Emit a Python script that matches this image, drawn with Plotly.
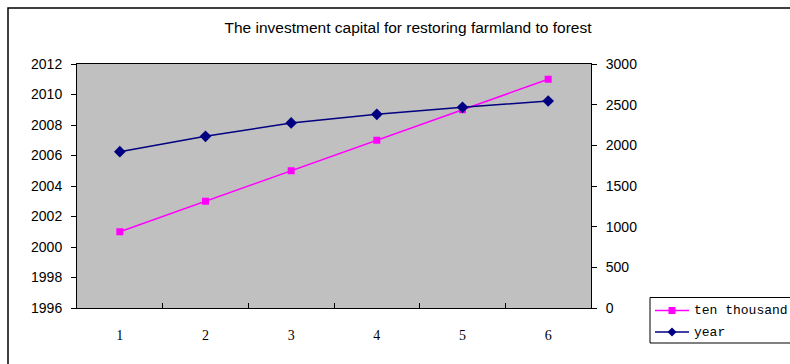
import plotly.graph_objects as go

categories = ["1", "2", "3", "4", "5", "6"]
ten_thousand = [2001, 2003, 2005, 2007, 2009, 2011]
year = [1922, 2111, 2275, 2381, 2467, 2545]
series_names = ["ten thousand", "year"]
title_text = "The investment capital for restoring farmland to forest"

W, H = 790, 364
L, R, T, B = 77, 591, 64, 308

def px_to_paper_x(px):
    return (px - L) / (R - L)

def px_to_paper_y(py):
    return (B - py) / (B - T)

PINK = "#FF00FF"
NAVY = "#000080"

fig = go.Figure()
fig.add_trace(go.Scatter(
    x=categories, y=ten_thousand, name=series_names[0], mode="lines+markers",
    line=dict(color=PINK, width=1.5),
    marker=dict(symbol="square", size=7, color=PINK),
    yaxis="y"))
fig.add_trace(go.Scatter(
    x=categories, y=year, name=series_names[1], mode="lines+markers",
    line=dict(color=NAVY, width=1.5),
    marker=dict(symbol="diamond", size=9, color=NAVY),
    yaxis="y2"))

axis_font = dict(family="Liberation Sans, Arial", size=14, color="black")

fig.update_layout(
    width=W, height=H,
    margin=dict(l=L, r=W - R, t=T, b=H - B, pad=0),
    paper_bgcolor="white",
    plot_bgcolor="#C0C0C0",
    showlegend=False,
    title=dict(text=title_text, x=px_to_paper_x(408), xref="paper",
               y=1 - 28 / H, yref="container", xanchor="center", yanchor="middle",
               font=dict(family="Liberation Sans, Arial", size=15.5, color="black")),
    xaxis=dict(type="category", range=[-0.5, len(categories) - 0.5],
               showgrid=False, showline=True, linecolor="black",
               linewidth=1, mirror=True, ticks="inside", tickson="boundaries",
               ticklen=5, tickcolor="black",
               tickfont=dict(family="Liberation Serif, serif", size=14, color="black"),
               ticklabelstandoff=14),
    yaxis=dict(range=[1996, 2012], dtick=2, showgrid=False, showline=True,
               linecolor="black", linewidth=1, ticks="outside", ticklen=5,
               tickcolor="black", tickfont=axis_font, zeroline=False,
               ticklabelstandoff=6),
    yaxis2=dict(range=[0, 3000], dtick=500, overlaying="y", side="right",
                showgrid=False, showline=True, linecolor="black", linewidth=1,
                ticks="outside", ticklen=5, tickcolor="black", tickfont=axis_font,
                zeroline=False, ticklabelstandoff=6),
)

# outer chart border
fig.add_shape(type="rect", xref="paper", yref="paper",
              x0=px_to_paper_x(8), x1=px_to_paper_x(820),
              y0=px_to_paper_y(400), y1=px_to_paper_y(8),
              line=dict(color="black", width=1.5), fillcolor="rgba(0,0,0,0)",
              layer="below")

# legend box (extends past the right edge, as in the reference)
fig.add_shape(type="rect", xref="paper", yref="paper",
              x0=px_to_paper_x(650), x1=px_to_paper_x(830),
              y0=px_to_paper_y(343), y1=px_to_paper_y(297.5),
              line=dict(color="black", width=1), fillcolor="white")

legend_rows = [(series_names[0], PINK, "square", 310.5),
               (series_names[1], NAVY, "diamond", 332)]
for name, color, sym, yc in legend_rows:
    fig.add_shape(type="line", xref="paper", yref="paper",
                  x0=px_to_paper_x(655), x1=px_to_paper_x(689),
                  y0=px_to_paper_y(yc), y1=px_to_paper_y(yc),
                  line=dict(color=color, width=1.5))
    cx = 672
    if sym == "square":
        fig.add_shape(type="rect", xref="paper", yref="paper",
                      x0=px_to_paper_x(cx - 3.5), x1=px_to_paper_x(cx + 3.5),
                      y0=px_to_paper_y(yc + 3.5), y1=px_to_paper_y(yc - 3.5),
                      line=dict(width=0), fillcolor=color)
    else:
        pts = [(cx, yc - 4.5), (cx + 4.5, yc), (cx, yc + 4.5), (cx - 4.5, yc)]
        path = "M " + " L ".join(f"{px_to_paper_x(a)},{px_to_paper_y(b)}" for a, b in pts) + " Z"
        fig.add_shape(type="path", xref="paper", yref="paper", path=path,
                      line=dict(width=0), fillcolor=color)
    fig.add_annotation(text=name, xref="paper", yref="paper",
                       x=px_to_paper_x(692), y=px_to_paper_y(yc),
                       xanchor="left", yanchor="middle", showarrow=False,
                       font=dict(family="Liberation Mono, monospace", size=13, color="black"))

fig.write_html("out.html")
